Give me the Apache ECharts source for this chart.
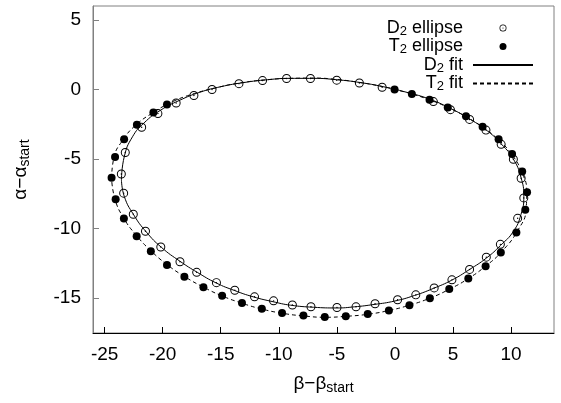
<!DOCTYPE html>
<html style="height: 100%">
<head>
<meta charset="utf-8">
<script type="text/javascript" src="https://cdn.jsdelivr.net/npm/echarts@6/dist/echarts.min.js"></script>
</head>
<body style="height: 100%; margin: 0">
<div id="container" style="width: 561px; height: 403px;"></div>
<script type="text/javascript">
// measured points, [beta - beta_start, alpha - alpha_start]
var d2Ellipse = [
	[-22.53, -8.97], [-23.36, -7.45], [-23.56, -6.07], [-23.22, -4.53], [-21.81, -2.71],
	[-20.41, -1.73], [-18.84, -0.97], [-17.31, -0.43], [-15.75, 0.00], [-13.43, 0.42],
	[-11.40, 0.64], [-9.33, 0.79], [-7.27, 0.79], [-5.01, 0.67], [-3.06, 0.47],
	[-1.10, 0.16], [3.31, -0.87], [4.78, -1.45], [6.43, -2.15], [7.84, -2.92],
	[9.15, -3.94], [10.20, -5.01], [10.87, -6.38], [11.10, -7.79], [10.57, -9.26],
	[9.08, -11.13], [7.87, -12.05], [6.43, -12.93], [4.91, -13.68], [3.38, -14.26],
	[1.80, -14.76], [0.23, -15.11], [-1.71, -15.40], [-3.35, -15.62], [-4.99, -15.67],
	[-7.23, -15.61], [-8.83, -15.49], [-10.45, -15.19], [-12.09, -14.90], [-13.79, -14.43],
	[-15.37, -13.88], [-17.07, -13.14], [-18.51, -12.38], [-20.16, -11.32], [-21.48, -10.19]
];
var t2Ellipse = [
	[-24.05, -7.89], [-24.40, -6.35], [-24.10, -4.85], [-23.32, -3.58], [-22.22, -2.54],
	[-20.80, -1.65], [-19.63, -1.07],
	[-0.03, 0.00], [1.46, -0.32], [2.98, -0.74], [4.55, -1.29], [6.12, -1.93],
	[7.55, -2.68], [8.93, -3.58], [10.09, -4.63], [10.96, -5.89], [11.38, -7.38],
	[11.23, -8.65], [10.46, -10.27], [9.12, -11.71], [7.81, -12.71], [6.32, -13.59],
	[4.68, -14.33], [3.01, -15.00], [1.25, -15.51], [-0.52, -15.88], [-2.34, -16.13],
	[-4.23, -16.29], [-6.04, -16.35], [-7.88, -16.25], [-9.72, -16.07], [-11.46, -15.76],
	[-13.17, -15.34], [-14.88, -14.83], [-16.49, -14.21], [-18.13, -13.46], [-19.63, -12.61],
	[-21.02, -11.62], [-22.24, -10.54], [-23.34, -9.28]
];
// fit curves
var d2Fit = [
	[-23.55, -6.5], [-23.3, -4.8], [-22.6, -3.4], [-21.6, -2.4], [-20.2, -1.5], [-18.6, -0.8],
	[-16.8, -0.2], [-15, 0.2], [-13, 0.5], [-11, 0.7], [-9, 0.8], [-7, 0.8], [-5, 0.7],
	[-3, 0.5], [-1, 0.2], [1, -0.2], [3, -0.7], [5, -1.45], [6.5, -2.15], [8, -3.0],
	[9.2, -3.95], [10.2, -5.0], [10.85, -6.3], [11.1, -7.7], [10.85, -9.0], [10.2, -10.2],
	[9.1, -11.2], [7.9, -12.1], [6.4, -12.95], [4.9, -13.7], [3.3, -14.3], [1.7, -14.8],
	[0, -15.2], [-1.8, -15.45], [-3.5, -15.62], [-5, -15.7], [-7, -15.65], [-9, -15.5],
	[-10.5, -15.25], [-12.2, -14.9], [-13.8, -14.45], [-15.4, -13.9], [-17, -13.15],
	[-18.5, -12.35], [-20.1, -11.35], [-21.4, -10.25], [-22.5, -9.0], [-23.3, -7.7], [-23.55, -6.5]
];
var t2Fit = [
	[-24.4, -6.4], [-24.2, -4.9], [-23.4, -3.6], [-22.3, -2.55], [-20.8, -1.65], [-19.2, -0.9],
	[-17.5, -0.35], [-15.5, 0.1], [-13.5, 0.45], [-11, 0.7], [-9, 0.8], [-7, 0.82], [-5, 0.72],
	[-3, 0.5], [-1, 0.2], [0, 0], [1.5, -0.33], [3, -0.75], [4.6, -1.3], [6.1, -1.95],
	[7.55, -2.7], [8.9, -3.6], [10.05, -4.65], [10.9, -5.9], [11.35, -7.3], [11.3, -8.6],
	[10.6, -10.1], [9.2, -11.65], [7.8, -12.7], [6.3, -13.6], [4.7, -14.35], [3, -15.0],
	[1.25, -15.5], [-0.5, -15.88], [-2.3, -16.15], [-4.2, -16.3], [-6, -16.37], [-7.9, -16.27],
	[-9.7, -16.08], [-11.5, -15.77], [-13.2, -15.35], [-14.9, -14.83], [-16.5, -14.2],
	[-18.1, -13.45], [-19.6, -12.6], [-21, -11.6], [-22.25, -10.5], [-23.35, -9.25],
	[-24.1, -7.9], [-24.4, -6.4]
];
var xTicks = [-25, -20, -15, -10, -5, 0, 5, 10];
var yTicks = [-15, -10, -5, 0, 5];
var names = ['D2 ellipse', 'T2 ellipse', 'D2 fit', 'T2 fit'];

var font = 'Liberation Sans';
// ring with a dot in the middle
var dotCircle = 'path://M0,-10A10,10 0 1,1 0,10A10,10 0 1,1 0,-10Z' +
	'M0,-7.8A7.8,7.8 0 1,0 0,7.8A7.8,7.8 0 1,0 0,-7.8Z' +
	'M0,-1.6A1.6,1.6 0 1,1 0,1.6A1.6,1.6 0 1,1 0,-1.6Z';

var dom = document.getElementById("container");
var myChart = echarts.init(dom);
var option = {
	animation: false,
	textStyle: { fontFamily: font, color: '#000' },
	grid: {
		left: 93, right: 7, top: 6, bottom: 70,
		show: true, borderColor: '#808080', borderWidth: 1
	},
	legend: {
		orient: 'vertical',
		align: 'right',
		right: 22,
		top: 14,
		itemWidth: 60,
		itemHeight: 7,
		itemGap: 0,
		data: [
			{ name: names[0] },
			{ name: names[1] },
			{ name: names[2], itemStyle: { opacity: 0 } },
			{ name: names[3], itemStyle: { opacity: 0 } }
		],
		formatter: function (name) {
			return '{n|' + name.charAt(0) + '}{s|2}{e|' + name.slice(2) + '}';
		},
		textStyle: {
			fontFamily: font,
			color: '#000',
			rich: {
				n: { fontSize: 18, lineHeight: 19, fontFamily: font },
				e: { fontSize: 18, lineHeight: 19, fontFamily: font, padding: [0, 5, 0, 0] },
				s: { fontSize: 13, lineHeight: 10, verticalAlign: 'bottom', fontFamily: font }
			}
		}
	},
	xAxis: {
		type: 'value',
		min: -26,
		max: 13.7,
		name: '{a|β−β}{s|start}',
		nameLocation: 'middle',
		nameGap: 40,
		nameTextStyle: {
			rich: {
				a: { fontSize: 19, lineHeight: 22, fontFamily: font, color: '#000' },
				s: { fontSize: 14, lineHeight: 10, verticalAlign: 'bottom', fontFamily: font, color: '#000' }
			}
		},
		splitLine: { show: false },
		axisLine: { onZero: false, lineStyle: { color: '#000', width: 1 } },
		axisTick: { inside: true, length: 6, customValues: xTicks, lineStyle: { color: '#000' } },
		axisLabel: { customValues: xTicks, fontSize: 19, color: '#000', margin: 12, fontFamily: font }
	},
	yAxis: {
		type: 'value',
		min: -17.5,
		max: 6,
		name: '{a|α−α}{s|start}',
		nameLocation: 'middle',
		nameGap: 61,
		nameRotate: 90,
		nameTextStyle: {
			rich: {
				a: { fontSize: 19, lineHeight: 22, fontFamily: font, color: '#000' },
				s: { fontSize: 14, lineHeight: 10, verticalAlign: 'bottom', fontFamily: font, color: '#000' }
			}
		},
		splitLine: { show: false },
		axisLine: { onZero: false, lineStyle: { color: '#808080', width: 1 } },
		axisTick: { inside: true, length: 6, customValues: yTicks, lineStyle: { color: '#808080' } },
		axisLabel: { customValues: yTicks, fontSize: 19, color: '#000', margin: 12, fontFamily: font }
	},
	series: [
		{
			name: 'D2 fit', type: 'line', data: d2Fit, smooth: 0.5, symbol: 'none',
			lineStyle: { color: '#000', width: 1 }, itemStyle: { color: 'transparent' }, z: 2
		},
		{
			name: 'T2 fit', type: 'line', data: t2Fit, smooth: 0.5, symbol: 'none',
			lineStyle: { color: '#000', width: 1, type: [4, 3] }, itemStyle: { color: 'transparent' }, z: 2
		},
		{
			name: 'D2 ellipse', type: 'scatter', data: d2Ellipse, symbol: dotCircle,
			symbolSize: 9, symbolKeepAspect: true, itemStyle: { color: '#000', opacity: 1 }, z: 3
		},
		{
			name: 'T2 ellipse', type: 'scatter', data: t2Ellipse, symbol: 'circle',
			symbolSize: 8, itemStyle: { color: '#000', opacity: 1 }, z: 3
		}
	]
};
if (option && typeof option === "object") {
	myChart.setOption(option, true);
}
</script>
</body>
</html>
